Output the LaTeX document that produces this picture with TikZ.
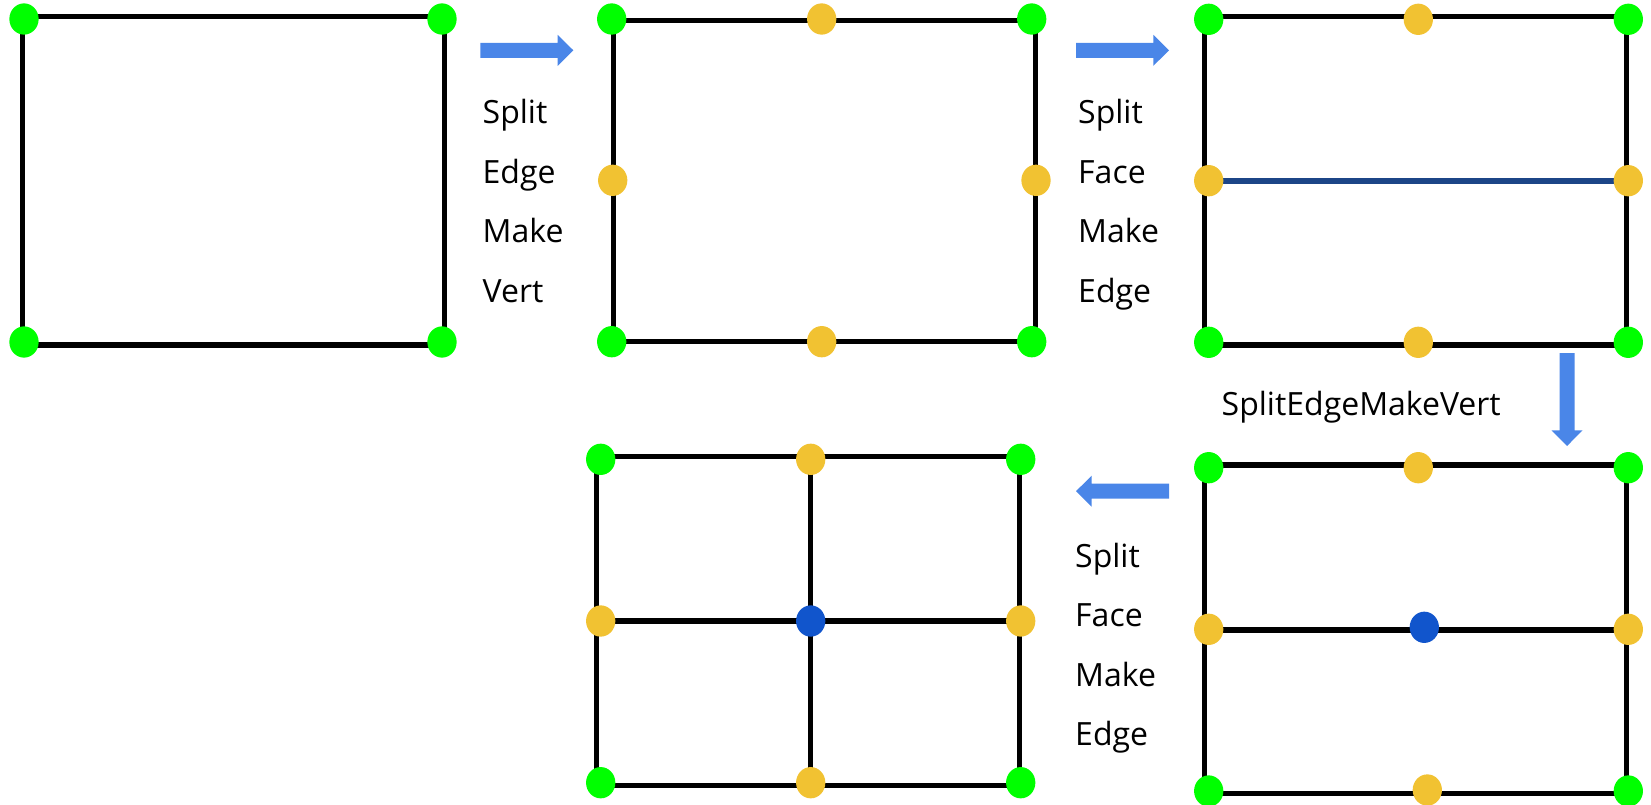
\documentclass[tikz,border=0pt]{standalone}
\usepackage{fontspec}
\setmainfont{Open Sans}
\usetikzlibrary{shapes.geometric}

\definecolor{vgreen}{HTML}{00FF00}
\definecolor{vyellow}{HTML}{F1C232}
\definecolor{vblue}{HTML}{1155CC}
\definecolor{flowblue}{HTML}{4A86E8}
\definecolor{splitline}{HTML}{1C4587}

\tikzset{
  meshedge/.style={line width=5.5pt, draw=black},
  newedge/.style={line width=5.7pt, draw=splitline},
  vtx/.style={ellipse, inner sep=0pt, minimum width=29.3pt, minimum height=31.3pt},
  cornervtx/.style={vtx, fill=vgreen},
  midvtx/.style={vtx, fill=vyellow},
  centervtx/.style={vtx, fill=vblue},
  steptext/.style={anchor=base west, inner sep=0pt, font=\fontsize{32}{38}\selectfont},
  flow arrow/.pic={
    \fill[flowblue] (0,0) -- (-15.6,-15.5) -- (-15.6,-7.5) -- (-93,-7.5)
      -- (-93,7.5) -- (-15.6,7.5) -- (-15.6,15.5) -- cycle;
  }
}

\begin{document}
\begin{tikzpicture}[x=1pt,y=-1pt]
\useasboundingbox (0,0) rectangle (1651,805);

% ---- stage 1: a single quad
\coordinate (q1nw) at (22.7,16.7);
\coordinate (q1se) at (444.7,345);
\draw[meshedge] (q1nw) rectangle (q1se);
\node[cornervtx] (a1) at (24,19) {};
\node[cornervtx] (a2) at (442,19) {};
\node[cornervtx] (a3) at (24,342) {};
\node[cornervtx] (a4) at (442,342) {};

% ---- stage 2: edges split
\coordinate (q2nw) at (613.3,20.7);
\coordinate (q2se) at (1035.3,341.3);
\draw[meshedge] (q2nw) rectangle (q2se);
\node[cornervtx] (b1) at (611.7,19) {};
\node[cornervtx] (b2) at (1031.7,19) {};
\node[cornervtx] (b3) at (611.7,341.7) {};
\node[cornervtx] (b4) at (1031.7,341.7) {};
\node[midvtx] (bt) at (821.7,19) {};
\node[midvtx] (bl) at (612.7,180.3) {};
\node[midvtx] (br) at (1036,180.3) {};
\node[midvtx] (bb) at (821.7,341.7) {};

% ---- stage 3: face split by a new edge
\coordinate (q3nw) at (1204.3,16.7);
\coordinate (q3se) at (1626.7,345);
\draw[meshedge] (q3nw) rectangle (q3se);
\coordinate (c3l) at (1208.7,181);
\coordinate (c3r) at (1628.3,181);
\draw[newedge] (c3l) -- (c3r);
\node[midvtx] (cl) at (1208.7,180.7) {};
\node[midvtx] (cr) at (1628.3,180.7) {};
\node[cornervtx] (c1) at (1208.7,19.3) {};
\node[cornervtx] (c2) at (1628.3,19.3) {};
\node[cornervtx] (c3) at (1208.7,342.3) {};
\node[cornervtx] (c4) at (1628.3,342.3) {};
\node[midvtx] (ct) at (1418.3,19.3) {};
\node[midvtx] (cb) at (1418.3,342.3) {};

% ---- stage 4: new edge split
\coordinate (q4nw) at (1204.3,465);
\coordinate (q4se) at (1626.7,793.3);
\draw[meshedge] (q4nw) rectangle (q4se);
\coordinate (d4l) at (1208.7,630);
\coordinate (d4r) at (1628.3,630);
\draw[meshedge] (d4l) -- (d4r);
\node[cornervtx] (d1) at (1208.7,467.7) {};
\node[cornervtx] (d2) at (1628.3,467.7) {};
\node[cornervtx] (d3) at (1208.7,791) {};
\node[cornervtx] (d4) at (1628.3,791) {};
\node[midvtx] (dt) at (1418.3,467.7) {};
\node[midvtx] (dl) at (1208.7,629.3) {};
\node[midvtx] (dr) at (1628.3,629.3) {};
\node[midvtx] (db) at (1427.3,790) {};
\node[centervtx] (dc) at (1424.3,627.3) {};

% ---- stage 5: four quads
\coordinate (q5nw) at (596.7,456.7);
\coordinate (q5se) at (1019.3,785.3);
\draw[meshedge] (q5nw) rectangle (q5se);
\coordinate (e5t) at (810.7,459.3);
\coordinate (e5b) at (810.7,782.7);
\coordinate (e5l) at (600.7,621);
\coordinate (e5r) at (1020.7,621);
\draw[meshedge] (e5t) -- (e5b);
\draw[meshedge] (e5l) -- (e5r);
\node[midvtx] (et) at (e5t) {};
\node[midvtx] (el) at (e5l) {};
\node[midvtx] (er) at (e5r) {};
\node[midvtx] (eb) at (e5b) {};
\node[cornervtx] (e1) at (600.7,459.3) {};
\node[cornervtx] (e2) at (1020.7,459.3) {};
\node[cornervtx] (e3) at (600.7,782.7) {};
\node[cornervtx] (e4) at (1020.7,782.7) {};
\node[centervtx] (ec) at (810.7,621) {};

% ---- operation arrows
\pic at (573.3,50.3) {flow arrow};
\pic at (1169,50.3) {flow arrow};
\pic[rotate=-90] at (1567,446) {flow arrow};
\pic[rotate=180] at (1076,491.2) {flow arrow};

% ---- operation names
\node[steptext] (t1a) at (482.5,123.5) {Split};
\node[steptext] (t1b) at (482.5,183.2) {Edge};
\node[steptext] (t1c) at (482.5,242.9) {Make};
\node[steptext] (t1d) at (482.5,302.6) {Vert};

\node[steptext] (t2a) at (1078,123.5) {Split};
\node[steptext] (t2b) at (1078,183.2) {Face};
\node[steptext] (t2c) at (1078,242.9) {Make};
\node[steptext] (t2d) at (1078,302.6) {Edge};

\node[steptext] (t3) at (1221.5,415) {SplitEdgeMakeVert};

\node[steptext] (t4a) at (1075,567.3) {Split};
\node[steptext] (t4b) at (1075,626.8) {Face};
\node[steptext] (t4c) at (1075,686.3) {Make};
\node[steptext] (t4d) at (1075,745.8) {Edge};
\end{tikzpicture}
\end{document}
